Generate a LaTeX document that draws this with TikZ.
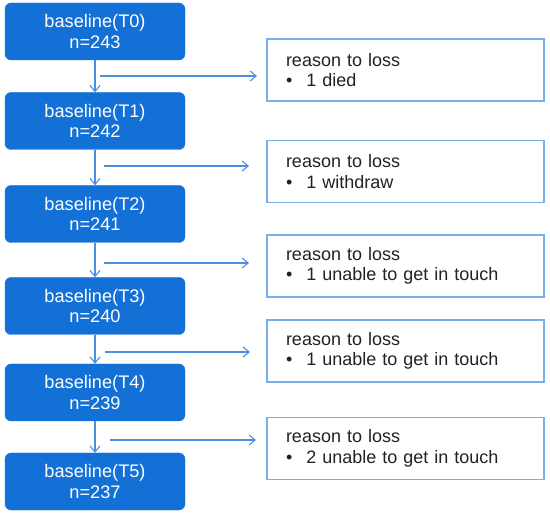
\documentclass[tikz,border=0pt]{standalone}
\usepackage{fontspec}
\setmainfont{Liberation Sans}
\usetikzlibrary{arrows.meta}
\definecolor{boxblue}{RGB}{18,112,214}
\definecolor{linkblue}{RGB}{74,143,224}
\definecolor{edgeblue}{RGB}{122,174,230}
\definecolor{txtdark}{RGB}{34,34,34}
\tikzset{
  stagebox/.style={draw=boxblue, fill=boxblue, rounded corners=6pt, minimum width=180pt,
    minimum height=57pt, inner sep=0pt, text=white, align=center,
    font=\fontsize{18.2}{20.5}\selectfont},
  lossbox/.style={draw=edgeblue, line width=1.3pt, fill=white, minimum width=277pt,
    minimum height=62pt, inner xsep=19pt, inner ysep=0pt, text width=239pt, align=left,
    text=txtdark, font=\fontsize{18}{20.5}\selectfont},
  flow/.style={draw=linkblue, line width=1.1pt, -{Straight Barb[length=6pt,width=10pt,line width=1.1pt]}},
}
\newcommand{\bul}{\textbullet\hspace{14pt}}
\begin{document}
\begin{tikzpicture}[x=1pt,y=-1pt]
\useasboundingbox (0,0) rectangle (550,516);
\node[stagebox] (t0) at (95,31.5) {baseline(T0)\\n=243};
\node[stagebox] (t1) at (95,121) {baseline(T1)\\n=242};
\node[stagebox] (t2) at (95,214) {baseline(T2)\\n=241};
\node[stagebox] (t3) at (95,306) {baseline(T3)\\n=240};
\node[stagebox] (t4) at (95,392.5) {baseline(T4)\\n=239};
\node[stagebox] (t5) at (95,481.5) {baseline(T5)\\n=237};

\node[lossbox] (r1) at (405.5,70) {reason to loss\\\bul 1 died};
\node[lossbox] (r2) at (405.5,171.5) {reason to loss\\\bul 1 withdraw};
\node[lossbox] (r3) at (405.5,266) {reason to loss\\\bul 1 unable to get in touch};
\node[lossbox] (r4) at (405.5,351) {reason to loss\\\bul 1 unable to get in touch};
\node[lossbox] (r5) at (405.5,448.5) {reason to loss\\\bul 2 unable to get in touch};

\draw[flow] (t0) -- (t1);
\draw[flow] (t1) -- (t2);
\draw[flow] (t2) -- (t3);
\draw[flow] (t3) -- (t4);
\draw[flow] (t4) -- (t5);

\coordinate (s1) at (100,76);  \coordinate (e1) at (257,76);
\coordinate (s2) at (104,166); \coordinate (e2) at (249,166);
\coordinate (s3) at (104,263); \coordinate (e3) at (249,263);
\coordinate (s4) at (105,352); \coordinate (e4) at (250,352);
\coordinate (s5) at (110,440); \coordinate (e5) at (256,440);
\draw[flow] (s1) -- (e1);
\draw[flow] (s2) -- (e2);
\draw[flow] (s3) -- (e3);
\draw[flow] (s4) -- (e4);
\draw[flow] (s5) -- (e5);
\end{tikzpicture}
\end{document}
